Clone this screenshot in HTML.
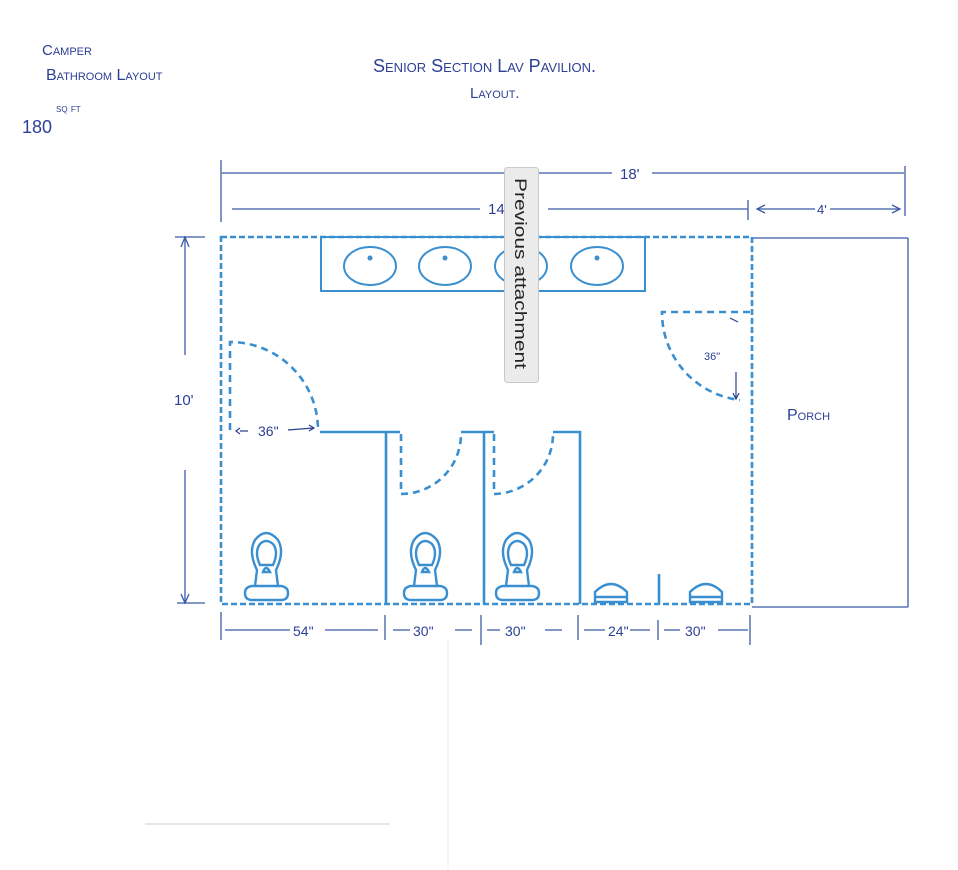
<!DOCTYPE html>
<html><head><meta charset="utf-8"><style>
html,body{margin:0;padding:0;background:#fff;width:958px;height:870px;overflow:hidden}
svg{display:block}
.h{font-family:"Liberation Sans",sans-serif;fill:#2d3f95;font-variant:small-caps}
</style></head><body>
<svg width="958" height="870" viewBox="0 0 958 870">
<!-- header text -->
<text class="h" x="42" y="55" font-size="15">Camper</text>
<text class="h" x="46" y="80" font-size="16">Bathroom Layout</text>
<text class="h" x="22" y="133" font-size="18">180</text>
<text class="h" x="56" y="112" font-size="12">sq ft</text>
<text class="h" x="373" y="72" font-size="18">Senior Section Lav Pavilion.</text>
<text class="h" x="470" y="98" font-size="15">Layout.</text>

<g stroke="#3b5aa8" stroke-width="1.3" fill="none">
<line x1="221" y1="160" x2="221" y2="222"/>
<line x1="905" y1="166" x2="905" y2="216"/>
<line x1="222" y1="173" x2="612" y2="173"/>
<line x1="652" y1="173" x2="904" y2="173"/>
<line x1="232" y1="209" x2="480" y2="209"/>
<line x1="548" y1="209" x2="748" y2="209"/>
<line x1="748" y1="200" x2="748" y2="220"/>
<line x1="757" y1="209" x2="815" y2="209"/>
<line x1="830" y1="209" x2="900" y2="209"/>
<path d="M765 205 L757 209 L765 213 M892 205 L900 209 L892 213"/>
<line x1="175" y1="237" x2="205" y2="237"/>
<line x1="185" y1="237" x2="185" y2="355"/>
<path d="M181 247 L185 237 L189 247"/>
<line x1="185" y1="470" x2="185" y2="603"/>
<line x1="177" y1="603" x2="205" y2="603"/>
<path d="M181 594 L185 603 L189 594"/>
<line x1="221" y1="612" x2="221" y2="640"/>
<line x1="385" y1="615" x2="385" y2="640"/>
<line x1="481" y1="615" x2="481" y2="645"/>
<line x1="578" y1="615" x2="578" y2="640"/>
<line x1="658" y1="620" x2="658" y2="640"/>
<line x1="750" y1="615" x2="750" y2="645"/>
<line x1="225" y1="630" x2="290" y2="630"/><line x1="325" y1="630" x2="378" y2="630"/>
<line x1="393" y1="630" x2="410" y2="630"/><line x1="455" y1="630" x2="472" y2="630"/>
<line x1="487" y1="630" x2="500" y2="630"/><line x1="545" y1="630" x2="562" y2="630"/>
<line x1="584" y1="630" x2="605" y2="630"/><line x1="630" y1="630" x2="650" y2="630"/>
<line x1="664" y1="630" x2="680" y2="630"/><line x1="718" y1="630" x2="748" y2="630"/>
<line x1="752" y1="238" x2="908" y2="238"/>
<line x1="908" y1="238" x2="908" y2="607"/>
<line x1="752" y1="607" x2="908" y2="607"/>
</g>
<g class="h" font-size="15">
<text x="620" y="179">18'</text>
<text x="488" y="214">14</text>
<text x="817" y="214" font-size="13">4'</text>
<text x="174" y="405">10'</text>
<text x="293" y="636" font-size="14">54"</text>
<text x="413" y="636" font-size="14">30"</text>
<text x="505" y="636" font-size="14">30"</text>
<text x="608" y="636" font-size="14">24"</text>
<text x="685" y="636" font-size="14">30"</text>
<text x="787" y="420" font-size="16">Porch</text>
<text x="258" y="436" font-size="14">36"</text>
<text x="704" y="360" font-size="11">36"</text>
</g>
<g stroke="#2d3f95" stroke-width="1.2" fill="none">
<path d="M240 431 L248 431 M240 428 L236 431 L240 434"/>
<path d="M288 430 L313 428 M309 425 L314 428 L309 431"/>
<path d="M736 372 L736 398 M733 393 L736 399 L739 393"/>
<path d="M730 318 L738 322"/>
</g>

<g stroke="#3a8fd0" stroke-width="2.6" fill="none">
<rect x="221" y="237" width="531" height="367" stroke-dasharray="6 3"/>
<rect x="321" y="237" width="324" height="54" stroke-width="2"/>
<ellipse cx="370" cy="266" rx="26" ry="19" stroke-width="2"/>
<ellipse cx="445" cy="266" rx="26" ry="19" stroke-width="2"/>
<ellipse cx="521" cy="266" rx="26" ry="19" stroke-width="2"/>
<ellipse cx="597" cy="266" rx="26" ry="19" stroke-width="2"/>
<path d="M230 430 L230 342 A88 88 0 0 1 318 430" stroke-dasharray="7 5"/>
<path d="M320 432 L400 432 M386 432 L386 604 M461 432 L494 432 M484 432 L484 604 M553 432 L580 432 L580 604"/>
<path d="M401 434 L401 494 A60 60 0 0 0 461 434" stroke-dasharray="7 5"/>
<path d="M494 434 L494 494 A60 60 0 0 0 553 434" stroke-dasharray="7 5"/>
<path d="M750 312 L662 312 A88 88 0 0 0 740 400" stroke-dasharray="7 5"/>
<line x1="659" y1="574" x2="659" y2="604"/>
</g>
<g fill="#3a8fd0">
<circle cx="370" cy="258" r="2.5"/><circle cx="445" cy="258" r="2.5"/><circle cx="521" cy="258" r="2.5"/><circle cx="597" cy="258" r="2.5"/>
</g>
<g stroke="#3a8fd0" stroke-width="2.4" fill="none">
<g id="t"><path d="M252 600 Q245 600 245 593 Q245 587 252 586 L281 586 Q288 587 288 593 Q288 600 281 600 Z"/>
<path d="M255 586 L257 570 Q248 552 255 540 Q266 526 278 540 Q285 552 276 570 L278 586"/>
<path d="M260 565 Q254 552 260 544 Q266 538 273 544 Q279 552 273 565 Z"/>
<path d="M263 572 Q266 564 270 572 Z"/></g>
<use href="#t" x="159"/><use href="#t" x="251"/>
<path d="M595 602 L595 592 Q611 576 627 592 L627 602 Z M595 597 L627 597"/>
<path d="M690 602 L690 592 Q706 576 722 592 L722 602 Z M690 597 L722 597"/>
</g>
<line x1="145" y1="824" x2="390" y2="824" stroke="#ccc" stroke-width="1"/>
<line x1="448" y1="640" x2="448" y2="870" stroke="#eee" stroke-width="1"/>
<rect x="504.5" y="167.5" width="34" height="215" rx="3" fill="#ebebeb" stroke="#c8c8c8"/>
<text x="0" y="0" transform="translate(515,178) rotate(90)" font-family="Liberation Sans,sans-serif" font-size="17" textLength="191" lengthAdjust="spacingAndGlyphs" fill="#222">Previous attachment</text>
</svg>
</body></html>
